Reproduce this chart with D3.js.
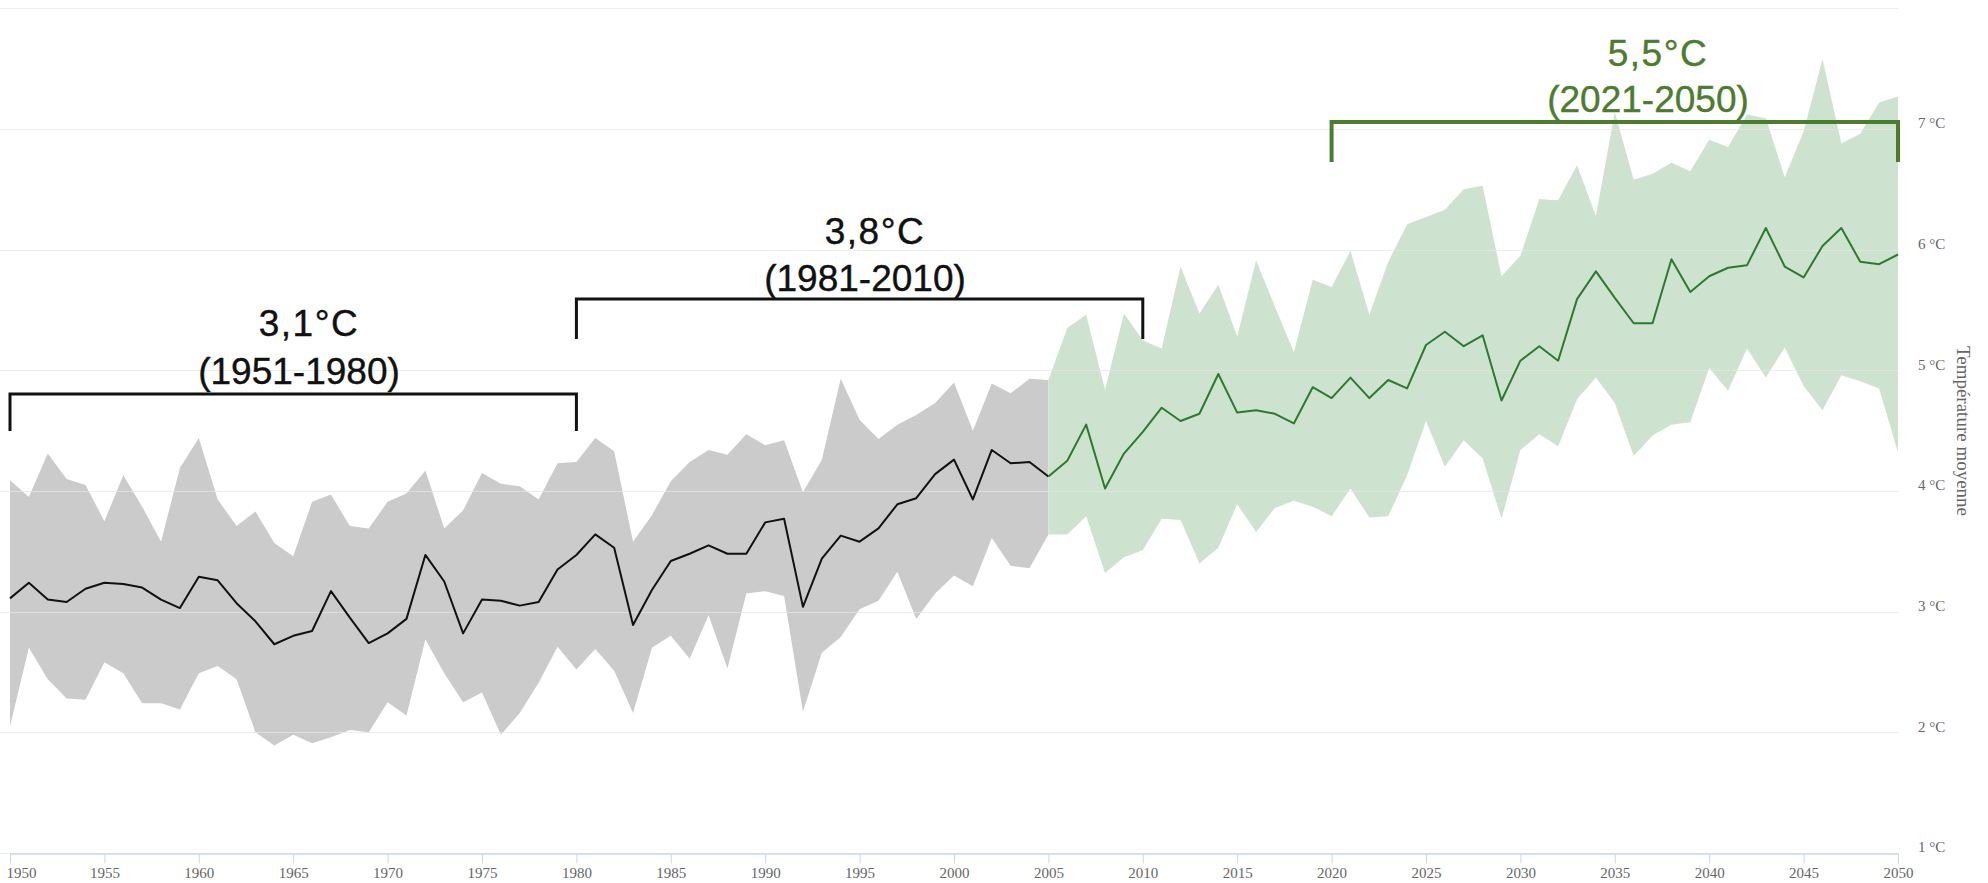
<!DOCTYPE html>
<html>
<head>
<meta charset="utf-8">
<script src="https://cdn.jsdelivr.net/npm/d3@7/dist/d3.min.js"></script>
<style>
  html, body { margin: 0; padding: 0; background: #ffffff; }
  svg { display: block; }
</style>
</head>
<body>
<svg id="chart"></svg>
<script>
/// data ///
const splitYear = 2005; // observed -> projected
const years = d3.range(1950, 2051);

const median = [
  3.11, 3.24, 3.10, 3.08, 3.19, 3.24, 3.23, 3.20, 3.10, 3.03,
  3.29, 3.26, 3.07, 2.92, 2.73, 2.80, 2.84, 3.17, 2.95, 2.74,
  2.82, 2.94, 3.47, 3.25, 2.82, 3.10, 3.09, 3.05, 3.08, 3.35,
  3.47, 3.64, 3.53, 2.89, 3.18, 3.42, 3.48, 3.55, 3.48, 3.48,
  3.74, 3.77, 3.04, 3.44, 3.63, 3.58, 3.69, 3.89, 3.94, 4.14,
  4.26, 3.93, 4.34, 4.23, 4.24, 4.12, 4.25, 4.55, 4.02, 4.31,
  4.49, 4.69, 4.58, 4.64, 4.97, 4.65, 4.67, 4.64, 4.56, 4.86,
  4.77, 4.94, 4.77, 4.92, 4.85, 5.21, 5.32, 5.20, 5.29, 4.75,
  5.08, 5.20, 5.08, 5.59, 5.82, 5.60, 5.39, 5.39, 5.92, 5.65,
  5.78, 5.85, 5.87, 6.18, 5.86, 5.77, 6.03, 6.18, 5.90, 5.88,
  5.96
];

const upper = [
  4.09, 3.95, 4.31, 4.10, 4.05, 3.75, 4.13, 3.87, 3.58, 4.19,
  4.44, 3.93, 3.71, 3.83, 3.57, 3.46, 3.91, 3.97, 3.71, 3.69,
  3.91, 3.98, 4.17, 3.69, 3.84, 4.15, 4.06, 4.04, 3.93, 4.23,
  4.24, 4.44, 4.33, 3.58, 3.80, 4.08, 4.24, 4.34, 4.30, 4.47,
  4.38, 4.42, 3.99, 4.26, 4.93, 4.59, 4.43, 4.55, 4.63, 4.73,
  4.90, 4.50, 4.89, 4.81, 4.93, 4.92, 5.35, 5.46, 4.84, 5.47,
  5.25, 5.18, 5.86, 5.47, 5.71, 5.28, 5.91, 5.53, 5.15, 5.75,
  5.69, 5.99, 5.46, 5.90, 6.21, 6.27, 6.33, 6.50, 6.53, 5.78,
  5.95, 6.42, 6.41, 6.70, 6.28, 7.14, 6.58, 6.63, 6.72, 6.65,
  6.91, 6.85, 7.12, 7.09, 6.60, 6.98, 7.58, 6.88, 6.96, 7.22,
  7.27
];

const lower = [
  2.05, 2.70, 2.44, 2.28, 2.27, 2.58, 2.49, 2.24, 2.24, 2.19,
  2.49, 2.55, 2.44, 2.00, 1.89, 1.98, 1.91, 1.96, 2.02, 2.00,
  2.25, 2.14, 2.77, 2.49, 2.25, 2.33, 1.98, 2.16, 2.41, 2.71,
  2.52, 2.69, 2.51, 2.16, 2.70, 2.80, 2.61, 2.97, 2.53, 3.15,
  3.17, 3.13, 2.17, 2.66, 2.79, 3.02, 3.09, 3.33, 2.94, 3.15,
  3.30, 3.21, 3.61, 3.38, 3.36, 3.64, 3.64, 3.79, 3.32, 3.45,
  3.51, 3.77, 3.76, 3.40, 3.53, 3.89, 3.66, 3.86, 3.92, 3.87,
  3.79, 4.02, 3.78, 3.79, 4.13, 4.58, 4.20, 4.42, 4.27, 3.77,
  4.34, 4.47, 4.37, 4.76, 4.94, 4.73, 4.29, 4.46, 4.55, 4.57,
  5.02, 4.83, 5.18, 4.94, 5.19, 4.87, 4.67, 4.96, 4.91, 4.85,
  4.32
];

const xTicks = d3.range(1950, 2051, 5);
const yTicks = [1, 2, 3, 4, 5, 6, 7];
const yGrid = [1, 2, 3, 4, 5, 6, 7, 8];
const yTitle = "Température moyenne";

// period averages (bracket annotations)
const periodFrom = [1950, 1980, 2020];
const periodTo = [1980, 2010, 2050];
const periodValue = ["3,1°C", "3,8°C", "5,5°C"];
const periodLabel = ["(1951-1980)", "(1981-2010)", "(2021-2050)"];

/// constants ///
const width = 1988;
const height = 883;
const plotLeft = 10;
const plotRight = 1898;
const plotBottom = 853;
const plotTop7 = 129;

const colGreyBand = "#cbcbcb";
const colGreenBand = "#cde3cf";
const colBlack = "#111111";
const colGreenLine = "#2a7b2c";
const colGreenNote = "#4b7d2d";
const colAxis = "#ccd6eb";
const colGrid = "#e6e6e6";
const colLabel = "#666666";
const serif = "'Liberation Serif', 'DejaVu Serif', serif";
const sans = "'Liberation Sans', Arial, sans-serif";

// bracket layout (pixels): horizontal level, leg bottom, text center, text baselines
const bracketLayout = [
  { y: 394, leg: 431, cx: 299,  b1: 336, b2: 384, color: colBlack,     sw: 3 },
  { y: 299, leg: 339, cx: 865,  b1: 244, b2: 291, color: colBlack,     sw: 3 },
  { y: 122, leg: 162, cx: 1648, b1: 66,  b2: 112, color: colGreenNote, sw: 4 }
];

/// scales ///
const x = d3.scaleLinear().domain([1950, 2050]).range([plotLeft, plotRight]);
const y = d3.scaleLinear().domain([1, 7]).range([plotBottom, plotTop7]);

const rows = years.map((yr, i) => ({ year: yr, mid: median[i], lo: lower[i], hi: upper[i] }));
const past = rows.filter(d => d.year <= splitYear);
const future = rows.filter(d => d.year >= splitYear);

const svg = d3.select("#chart").attr("width", width).attr("height", height);
svg.append("rect").attr("width", width).attr("height", height).attr("fill", "#ffffff");

/////////////////////////////////////////////
//////////////// Bands //////////////////////
/////////////////////////////////////////////
const area = d3.area()
  .x(d => x(d.year))
  .y0(d => y(d.lo))
  .y1(d => y(d.hi));

svg.append("path").datum(past)
  .attr("d", area)
  .attr("fill", colGreyBand);

svg.append("path").datum(future)
  .attr("d", area)
  .attr("fill", colGreenBand);

/////////////////////////////////////////////
//////////////// Grid ///////////////////////
/////////////////////////////////////////////
svg.append("g")
  .selectAll("line").data(yGrid).join("line")
    .attr("x1", plotLeft - 10)
    .attr("x2", plotRight)
    .attr("y1", d => Math.round(y(d)) + 0.5)
    .attr("y2", d => Math.round(y(d)) + 0.5)
    .attr("stroke", colGrid)
    .attr("stroke-opacity", 0.75)
    .attr("stroke-width", 1);

/////////////////////////////////////////////
//////////////// Lines //////////////////////
/////////////////////////////////////////////
const line = d3.line()
  .x(d => x(d.year))
  .y(d => y(d.mid));

svg.append("path").datum(past)
  .attr("d", line)
  .attr("fill", "none")
  .attr("stroke", colBlack)
  .attr("stroke-width", 2)
  .attr("stroke-linejoin", "round");

svg.append("path").datum(future)
  .attr("d", line)
  .attr("fill", "none")
  .attr("stroke", colGreenLine)
  .attr("stroke-width", 2)
  .attr("stroke-linejoin", "round");

/////////////////////////////////////////////
//////////////// Axes ///////////////////////
/////////////////////////////////////////////
const xAxis = svg.append("g")
  .attr("transform", `translate(0, ${plotBottom + 0.5})`)
  .call(d3.axisBottom(x).tickValues(xTicks).tickFormat(d3.format("d")).tickSize(10).tickSizeOuter(0).tickPadding(4));

xAxis.select(".domain").attr("stroke", colAxis).attr("stroke-width", 1.5);
xAxis.selectAll(".tick line").attr("stroke", colAxis);
xAxis.selectAll(".tick text")
  .attr("fill", colLabel)
  .style("font-family", serif)
  .style("font-size", "15px");

// first label is pushed inside the chart, like the original
xAxis.selectAll(".tick text")
  .filter(d => d === 1950)
  .attr("text-anchor", "start")
  .attr("x", -4);

const yAxis = svg.append("g")
  .attr("transform", `translate(1915, 0)`)
  .call(d3.axisRight(y).tickValues(yTicks).tickFormat(d => `${d} °C`).tickSize(0).tickPadding(3));

yAxis.select(".domain").remove();
yAxis.selectAll(".tick text")
  .attr("fill", colLabel)
  .attr("y", -6)
  .style("font-family", serif)
  .style("font-size", "15px");

svg.append("text")
  .attr("transform", `translate(1957, 431) rotate(90)`)
  .attr("text-anchor", "middle")
  .attr("fill", colLabel)
  .style("font-family", serif)
  .style("font-size", "19px")
  .text(yTitle);

/////////////////////////////////////////////
//////////////// Brackets ///////////////////
/////////////////////////////////////////////
const notes = svg.append("g")
  .selectAll("g").data(bracketLayout).join("g");

notes.append("path")
  .attr("d", (d, i) => {
    const x0 = x(periodFrom[i]), x1 = x(periodTo[i]);
    return `M${x0},${d.leg} L${x0},${d.y} L${x1},${d.y} L${x1},${d.leg}`;
  })
  .attr("fill", "none")
  .attr("stroke", d => d.color)
  .attr("stroke-width", d => d.sw);

notes.append("text")
  .attr("x", d => d.cx + 10)
  .attr("y", d => d.b1)
  .attr("text-anchor", "middle")
  .attr("fill", d => d.color)
  .attr("stroke", d => d.color)
  .attr("stroke-width", 0.4)
  .style("font-family", sans)
  .style("font-size", "37px")
  .style("letter-spacing", "1.5px")
  .text((d, i) => periodValue[i]);

notes.append("text")
  .attr("x", d => d.cx)
  .attr("y", d => d.b2)
  .attr("text-anchor", "middle")
  .attr("fill", d => d.color)
  .attr("stroke", d => d.color)
  .attr("stroke-width", 0.4)
  .style("font-family", sans)
  .style("font-size", "37px")
  .text((d, i) => periodLabel[i]);
</script>
</body>
</html>
